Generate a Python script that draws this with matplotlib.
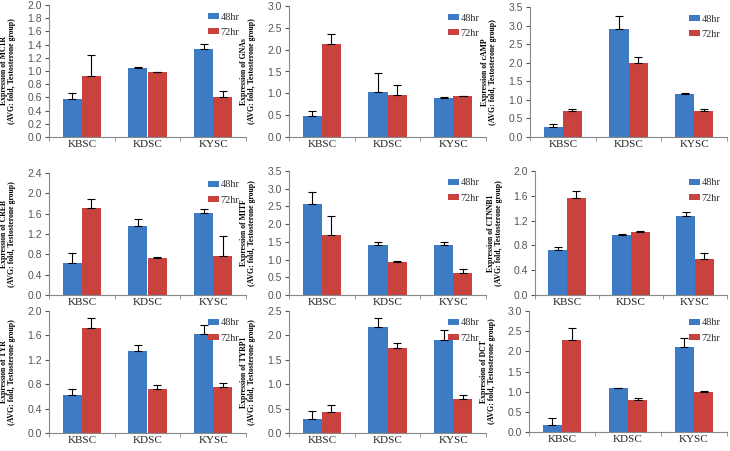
import matplotlib
matplotlib.use("Agg")
import matplotlib.pyplot as plt
import numpy as np

categories = ["KBSC", "KDSC", "KYSC"]
series_names = ["48hr", "72hr"]

genes = ["MC1R", "GNAs", "cAMP", "CREB", "MITF", "CTNNB1", "TYR", "TYRP1", "DCT"]

# values: (48hr, 72hr) per category; error: upper error
mc1r_48 = [0.57, 1.05, 1.33]; mc1r_72 = [0.92, 0.98, 0.60]
mc1r_48e = [0.10, 0.01, 0.08]; mc1r_72e = [0.32, 0.005, 0.09]

gnas_48 = [0.47, 1.04, 0.90]; gnas_72 = [2.12, 0.96, 0.94]
gnas_48e = [0.12, 0.42, 0.01]; gnas_72e = [0.25, 0.24, 0.01]

camp_48 = [0.27, 2.90, 1.17]; camp_72 = [0.70, 1.98, 0.70]
camp_48e = [0.09, 0.36, 0.02]; camp_72e = [0.06, 0.17, 0.06]

creb_48 = [0.62, 1.35, 1.62]; creb_72 = [1.72, 0.72, 0.77]
creb_48e = [0.20, 0.15, 0.08]; creb_72e = [0.16, 0.03, 0.39]

mitf_48 = [2.58, 1.42, 1.42]; mitf_72 = [1.68, 0.93, 0.62]
mitf_48e = [0.32, 0.09, 0.09]; mitf_72e = [0.56, 0.02, 0.10]

ctnnb1_48 = [0.73, 0.97, 1.28]; ctnnb1_72 = [1.56, 1.02, 0.58]
ctnnb1_48e = [0.05, 0.01, 0.06]; ctnnb1_72e = [0.12, 0.01, 0.09]

tyr_48 = [0.62, 1.35, 1.63]; tyr_72 = [1.72, 0.72, 0.75]
tyr_48e = [0.10, 0.10, 0.14]; tyr_72e = [0.16, 0.06, 0.07]

tyrp1_48 = [0.28, 2.17, 1.90]; tyrp1_72 = [0.43, 1.74, 0.69]
tyrp1_48e = [0.17, 0.18, 0.22]; tyrp1_72e = [0.14, 0.10, 0.09]

dct_48 = [0.17, 1.08, 2.10]; dct_72 = [2.28, 0.80, 1.00]
dct_48e = [0.18, 0.01, 0.24]; dct_72e = [0.30, 0.05, 0.005]

y_max = [2.0, 3.0, 3.5, 2.4, 3.5, 2.0, 2.0, 2.5, 3.0]
y_step = [0.2, 0.5, 0.5, 0.4, 0.5, 0.4, 0.4, 0.5, 0.5]

data = [
    (mc1r_48, mc1r_72, mc1r_48e, mc1r_72e),
    (gnas_48, gnas_72, gnas_48e, gnas_72e),
    (camp_48, camp_72, camp_48e, camp_72e),
    (creb_48, creb_72, creb_48e, creb_72e),
    (mitf_48, mitf_72, mitf_48e, mitf_72e),
    (ctnnb1_48, ctnnb1_72, ctnnb1_48e, ctnnb1_72e),
    (tyr_48, tyr_72, tyr_48e, tyr_72e),
    (tyrp1_48, tyrp1_72, tyrp1_48e, tyrp1_72e),
    (dct_48, dct_72, dct_48e, dct_72e),
]

blue = "#3D7CC4"
red = "#C9423E"

W, H = 730, 451
fig = plt.figure(figsize=(7.3, 4.51), dpi=100)

# axes boxes in pixels: (left, top, right, bottom)
boxes = [
    (49, 5, 246, 137), (289, 6, 486, 137), (530, 7, 727, 137),
    (49, 173, 246, 295), (289, 171, 486, 295), (535, 171, 727, 295),
    (49, 311, 246, 433), (289, 311, 486, 433), (529, 311, 727, 432),
]

x = np.arange(len(categories))
bw = 0.29

for i, (g, d) in enumerate(zip(genes, data)):
    l, t, r, b = boxes[i]
    ax = fig.add_axes([l / W, 1 - b / H, (r - l) / W, (b - t) / H])
    v48, v72, e48, e72 = d
    ax.bar(x - bw / 2, v48, bw, color=blue, label=series_names[0], zorder=2)
    ax.bar(x + bw / 2, v72, bw, color=red, label=series_names[1], zorder=2)
    ax.errorbar(x - bw / 2, v48, yerr=[np.zeros(3), e48], fmt="none",
                ecolor="black", elinewidth=0.8, capsize=3, capthick=0.8, zorder=3)
    ax.errorbar(x + bw / 2, v72, yerr=[np.zeros(3), e72], fmt="none",
                ecolor="black", elinewidth=0.8, capsize=3, capthick=0.8, zorder=3)
    ax.set_xlim(-0.5, 2.5)
    ax.set_ylim(0, y_max[i])
    ax.set_yticks(np.arange(0, y_max[i] + 1e-6, y_step[i]))
    ax.yaxis.set_major_formatter(matplotlib.ticker.FormatStrFormatter("%.1f"))
    ax.set_xticks(x)
    ax.set_xticklabels(categories, fontsize=8, family="Liberation Serif", color="#222222")
    ax.set_xticks([-0.5, 0.5, 1.5, 2.5], minor=True)
    ax.tick_params(axis="x", which="major", length=0, pad=2)
    ax.tick_params(axis="x", which="minor", length=3, color="#888888")
    ax.tick_params(axis="y", labelsize=7.5, colors="#555555", length=3, pad=2)
    for lab in ax.get_yticklabels():
        lab.set_family("Liberation Sans")
    for s in ["top", "right"]:
        ax.spines[s].set_visible(False)
    for s in ["left", "bottom"]:
        ax.spines[s].set_color("#888888")
        ax.spines[s].set_linewidth(0.8)
    ax.set_ylabel("Expression of %s\n(AVG: fold, Testosterone group)" % g,
                  fontsize=5.6, family="Liberation Serif", fontweight="bold",
                  linespacing=1.05)
    ax.yaxis.set_label_coords(-0.165, 0.5)
    ax.legend(loc="upper right", bbox_to_anchor=(1.0, 0.99), frameon=False,
              handlelength=1.0, handleheight=0.55,
              handletextpad=0.2, labelspacing=0.6, borderaxespad=0.2,
              labelcolor="#333333", prop={"family": "Liberation Serif", "size": 7.5})

fig.savefig("out.png", dpi=100)
